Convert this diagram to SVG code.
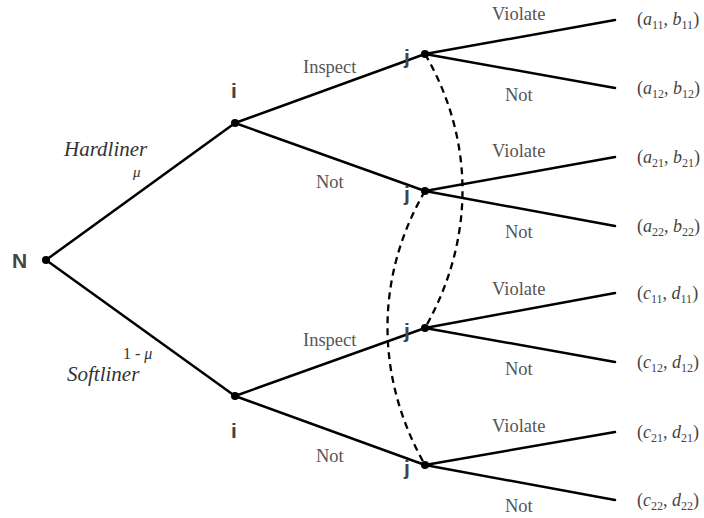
<svg xmlns="http://www.w3.org/2000/svg" width="704" height="518" viewBox="0 0 704 518">
<style>
.e{stroke:#000;stroke-width:2.5;fill:none;stroke-linecap:round}
.d{stroke:#000;stroke-width:2.3;fill:none;stroke-dasharray:7 5}
.dot{fill:#000}
.nl{font-weight:bold;fill:#444}
.lb{font-size:18.5px;fill:#555}
.it{font-style:italic;fill:#333}
.pay{font-size:18px;fill:#444}
.v{font-style:italic}
.s{font-size:12px}
</style>
<rect width="704" height="518" fill="#fff"/>
<g id="connectors">
<line class="e" x1="46" y1="260" x2="235" y2="123"/>
<line class="e" x1="46" y1="260" x2="235" y2="396"/>
<line class="e" x1="235" y1="123" x2="425" y2="54"/>
<line class="e" x1="235" y1="123" x2="425" y2="191"/>
<line class="e" x1="235" y1="396" x2="425" y2="328"/>
<line class="e" x1="235" y1="396" x2="425" y2="465"/>
<line class="e" x1="425" y1="54" x2="615" y2="20"/>
<line class="e" x1="425" y1="54" x2="615" y2="88"/>
<line class="e" x1="425" y1="191" x2="615" y2="157"/>
<line class="e" x1="425" y1="191" x2="615" y2="226"/>
<line class="e" x1="425" y1="328" x2="615" y2="293"/>
<line class="e" x1="425" y1="328" x2="615" y2="362"/>
<line class="e" x1="425" y1="465" x2="615" y2="432"/>
<line class="e" x1="425" y1="465" x2="615" y2="500"/>
<path class="d" d="M425,54 C475,140 475,240 425,328"/>
<path class="d" d="M425,191 C375,277 375,377 425,465"/>
</g>
<g id="labels" font-family="Liberation Serif, Times New Roman, serif">
<text class="it" x="64" y="156" font-size="21">Hardliner</text>
<text class="it" x="133" y="177" font-size="15">μ</text>
<text class="it" x="123" y="359" font-size="16"><tspan font-style="normal">1 - </tspan>μ</text>
<text class="it" x="67" y="381" font-size="21">Softliner</text>
<text class="lb" x="303" y="73">Inspect</text>
<text class="lb" x="316" y="188">Not</text>
<text class="lb" x="303" y="346">Inspect</text>
<text class="lb" x="316" y="462">Not</text>
<text class="lb" x="492" y="20">Violate</text>
<text class="lb" x="505" y="101">Not</text>
<text class="lb" x="492" y="157">Violate</text>
<text class="lb" x="505" y="238">Not</text>
<text class="lb" x="492" y="295">Violate</text>
<text class="lb" x="505" y="375">Not</text>
<text class="lb" x="492" y="432">Violate</text>
<text class="lb" x="505" y="512">Not</text>
</g>
<g font-family="Liberation Sans, Arial, sans-serif">
<g id="N"><circle class="dot" cx="46" cy="260" r="4"/><text class="nl" x="12" y="268" font-size="21">N</text></g>
<g id="i1"><circle class="dot" cx="235" cy="123" r="4"/><text class="nl" x="231" y="98" font-size="21">i</text></g>
<g id="i2"><circle class="dot" cx="235" cy="396" r="4"/><text class="nl" x="231" y="438" font-size="21">i</text></g>
<g id="j1"><circle class="dot" cx="425" cy="54" r="4"/><text class="nl" x="404" y="64" font-size="21">j</text></g>
<g id="j2"><circle class="dot" cx="425" cy="191" r="4"/><text class="nl" x="404" y="201" font-size="21">j</text></g>
<g id="j3"><circle class="dot" cx="425" cy="328" r="4"/><text class="nl" x="404" y="338" font-size="21">j</text></g>
<g id="j4"><circle class="dot" cx="425" cy="465" r="4"/><text class="nl" x="404" y="475" font-size="21">j</text></g>
</g>
<g id="payoffs" font-family="Liberation Serif, Times New Roman, serif">
<text class="pay" x="637" y="25">(<tspan class="v">a</tspan><tspan class="s" dy="4">11</tspan><tspan dy="-4">, </tspan><tspan class="v">b</tspan><tspan class="s" dy="4">11</tspan><tspan dy="-4">)</tspan></text>
<text class="pay" x="637" y="94">(<tspan class="v">a</tspan><tspan class="s" dy="4">12</tspan><tspan dy="-4">, </tspan><tspan class="v">b</tspan><tspan class="s" dy="4">12</tspan><tspan dy="-4">)</tspan></text>
<text class="pay" x="637" y="163">(<tspan class="v">a</tspan><tspan class="s" dy="4">21</tspan><tspan dy="-4">, </tspan><tspan class="v">b</tspan><tspan class="s" dy="4">21</tspan><tspan dy="-4">)</tspan></text>
<text class="pay" x="637" y="232">(<tspan class="v">a</tspan><tspan class="s" dy="4">22</tspan><tspan dy="-4">, </tspan><tspan class="v">b</tspan><tspan class="s" dy="4">22</tspan><tspan dy="-4">)</tspan></text>
<text class="pay" x="637" y="299">(<tspan class="v">c</tspan><tspan class="s" dy="4">11</tspan><tspan dy="-4">, </tspan><tspan class="v">d</tspan><tspan class="s" dy="4">11</tspan><tspan dy="-4">)</tspan></text>
<text class="pay" x="637" y="368">(<tspan class="v">c</tspan><tspan class="s" dy="4">12</tspan><tspan dy="-4">, </tspan><tspan class="v">d</tspan><tspan class="s" dy="4">12</tspan><tspan dy="-4">)</tspan></text>
<text class="pay" x="637" y="438">(<tspan class="v">c</tspan><tspan class="s" dy="4">21</tspan><tspan dy="-4">, </tspan><tspan class="v">d</tspan><tspan class="s" dy="4">21</tspan><tspan dy="-4">)</tspan></text>
<text class="pay" x="637" y="506">(<tspan class="v">c</tspan><tspan class="s" dy="4">22</tspan><tspan dy="-4">, </tspan><tspan class="v">d</tspan><tspan class="s" dy="4">22</tspan><tspan dy="-4">)</tspan></text>
</g>
</svg>
